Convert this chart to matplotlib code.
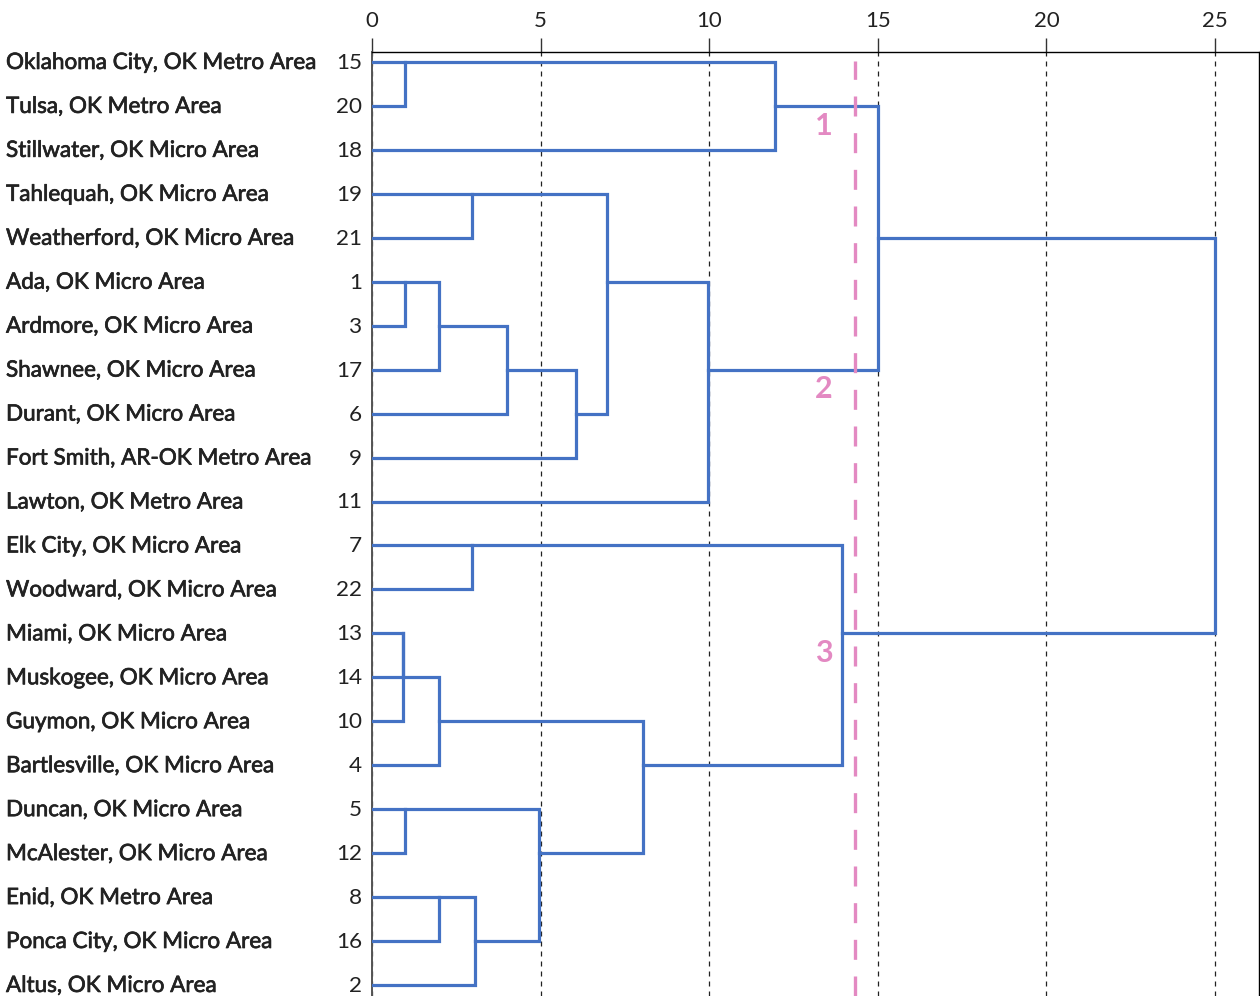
import matplotlib.pyplot as plt
from matplotlib import transforms
import matplotlib.patheffects as pe

plt.rcParams['font.family'] = ['Lato', 'DejaVu Sans']

# leaves, top to bottom
names = [
    'Oklahoma City, OK Metro Area', 'Tulsa, OK Metro Area', 'Stillwater, OK Micro Area',
    'Tahlequah, OK Micro Area', 'Weatherford, OK Micro Area', 'Ada, OK Micro Area',
    'Ardmore, OK Micro Area', 'Shawnee, OK Micro Area', 'Durant, OK Micro Area',
    'Fort Smith, AR-OK Metro Area', 'Lawton, OK Metro Area', 'Elk City, OK Micro Area',
    'Woodward, OK Micro Area', 'Miami, OK Micro Area', 'Muskogee, OK Micro Area',
    'Guymon, OK Micro Area', 'Bartlesville, OK Micro Area', 'Duncan, OK Micro Area',
    'McAlester, OK Micro Area', 'Enid, OK Metro Area', 'Ponca City, OK Micro Area',
    'Altus, OK Micro Area',
]
case_ids = [15, 20, 18, 19, 21, 1, 3, 17, 6, 9, 11, 7, 22, 13, 14, 10, 4, 5, 12, 8, 16, 2]

# agglomeration schedule: (cluster a, cluster b, rescaled distance)
merge_a = [13, 13, 15, 1, 5, 13, 1, 8, 19, 7, 8, 1, 5, 1, 19, 13, 19, 15, 7, 15, 15]
merge_b = [14, 10, 20, 3, 12, 4, 17, 16, 21, 22, 2, 6, 8, 9, 1, 5, 11, 18, 13, 19, 7]
merge_h = [0.92, 0.92, 0.98, 0.98, 0.98, 2.0, 2.0, 2.0, 2.97, 2.97, 3.05, 4.0, 4.95,
           6.05, 6.97, 8.04, 9.96, 11.95, 13.94, 15.0, 25.0]
cut = 14.32

BLUE = '#4472C4'
PINK = '#E389C2'
TEXT = '#222222'

fig = plt.figure(figsize=(12.6, 9.96), dpi=100)
ax = fig.add_axes([372 / 1260, 0, 887 / 1260, 944 / 996])
ax.set_xlim(0, 887 / 33.72)
ax.set_ylim(21.25, -0.2275)

clusters = {c: {'x': 0.0, 'row': i} for i, c in enumerate(case_ids)}
groups_at_cut = None
for a, b, h in zip(merge_a, merge_b, merge_h):
    if h > cut and groups_at_cut is None:
        groups_at_cut = sorted(c['row'] for c in clusters.values())
    ca, cb = clusters[a], clusters[b]
    ax.plot([ca['x'], h, h, cb['x']], [ca['row'], ca['row'], cb['row'], cb['row']],
            color=BLUE, lw=2.3, solid_joinstyle='miter', zorder=3)
    clusters[a] = {'x': h, 'row': (ca['row'] + cb['row']) // 2}
    del clusters[b]

# cut line and cluster numbers
ax.axvline(cut, ymin=0, ymax=0.99, color=PINK, lw=2.4, dashes=(6, 5), zorder=4)
for k, r in enumerate(groups_at_cut):
    ax.text(cut - 0.92, r + 0.45, str(k + 1), color=PINK, fontsize=22,
            fontweight='bold', ha='center', va='center', zorder=5)

# axes styling
ax.xaxis.tick_top()
ax.set_xticks([0, 5, 10, 15, 20, 25])
ax.tick_params(axis='x', length=10, width=1, color='#333333', labelcolor=TEXT,
               labelsize=16, pad=5)
ax.set_yticks([])
ax.grid(axis='x', color='#222222', lw=0.9, linestyle=(0, (4, 4)))
ax.spines['bottom'].set_visible(False)
ax.spines['left'].set_color('#555555')
ax.spines['left'].set_linewidth(1.4)
ax.spines['top'].set_linewidth(1.0)
ax.spines['right'].set_linewidth(1.0)

# row labels
trans = transforms.blended_transform_factory(fig.transFigure, ax.transData)
trans = trans + transforms.ScaledTranslation(0, -5.0 / 72, fig.dpi_scale_trans)
heavier = [pe.withStroke(linewidth=0.5, foreground=TEXT)]
for i, (name, cid) in enumerate(zip(names, case_ids)):
    fig.text(6 / 1260, i, name, transform=trans, fontsize=16.2, color=TEXT,
             ha='left', va='baseline', path_effects=heavier)
    fig.text(362 / 1260, i, str(cid), transform=trans, fontsize=16.2, color=TEXT,
             ha='right', va='baseline')

fig.savefig('out.png', dpi=100)
